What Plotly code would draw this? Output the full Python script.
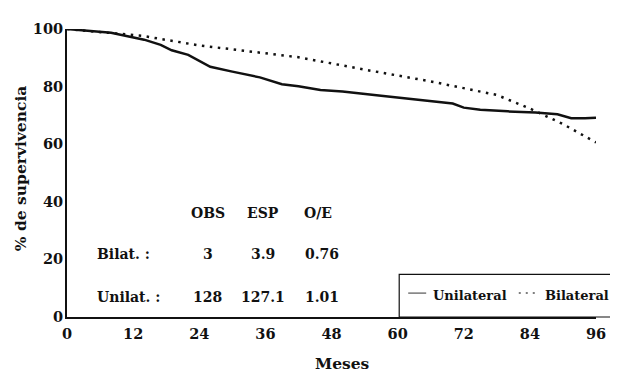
import plotly.graph_objects as go

# Data
meses_unilat = [0, 4, 8, 11, 14, 17, 19, 22, 24, 26, 30, 35, 39, 42, 46, 50, 57, 62, 66, 70, 72, 75, 80, 85, 89, 91.5, 94, 96]
surv_unilat = [100, 99.3, 98.7, 97.5, 96.3, 94.5, 92.6, 91, 89, 86.9, 85.2, 83.2, 80.8, 80.1, 78.8, 78.3, 76.8, 75.8, 75.1, 74.1, 72.7, 72, 71.4, 71, 70.4, 69, 69, 69.2]

meses_bilat = [0, 8, 13.7, 24, 33, 42, 54, 66, 78, 84, 87, 90, 96]
surv_bilat = [100, 98.7, 97.6, 94.3, 92.3, 90.2, 85.9, 81.8, 77.1, 72.4, 69.7, 67, 60.6]

x_ticks = [0, 12, 24, 36, 48, 60, 72, 84, 96]
y_ticks = [0, 20, 40, 60, 80, 100]

table_cols = ["OBS", "ESP", "O/E"]
table_rows = ["Bilat. :", "Unilat. :"]
table_vals = [["3", "3.9", "0.76"], ["128", "127.1", "1.01"]]

FONT = "DejaVu Serif"
BLACK = "#111111"

fig = go.Figure()
fig.add_trace(go.Scatter(x=meses_unilat, y=surv_unilat, mode="lines", name="Unilateral",
                         line=dict(color=BLACK, width=2.5), cliponaxis=False, showlegend=False))
fig.add_trace(go.Scatter(x=meses_bilat, y=surv_bilat, mode="lines", name="Bilateral",
                         line=dict(color=BLACK, width=2.5, dash="2.5px,5.5px"), cliponaxis=False, showlegend=False))

# Table annotations
col_x = [25.5, 35.5, 45.6]
row_y = [21.9, 7.1]
header_y = 36
tfont = dict(family=FONT, size=14, color=BLACK, weight="bold")
anns = []
for cx, c in zip(col_x, table_cols):
    anns.append(dict(x=cx, y=header_y, text=c, xref="x", yref="y", showarrow=False,
                     font=tfont, xanchor="center", yanchor="middle"))
for ry, r, vals in zip(row_y, table_rows, table_vals):
    anns.append(dict(x=5.0, y=ry, text=r, xref="x", yref="y", showarrow=False, xanchor="left",
                     yanchor="middle", font=tfont))
    for i, (cx, v) in enumerate(zip(col_x, vals)):
        if i == 2:
            anns.append(dict(x=42.9, y=ry, text=v, xref="x", yref="y", showarrow=False, xanchor="left",
                             yanchor="middle", font=tfont))
        else:
            anns.append(dict(x=cx, y=ry, text=v, xref="x", yref="y", showarrow=False, xanchor="center",
                             yanchor="middle", font=tfont))

# Axis titles
anns.append(dict(x=-0.088, y=0.515, xref="paper", yref="paper", text="% de supervivencia", textangle=-90,
                 xanchor="center", yanchor="middle",
                 showarrow=False, font=dict(family=FONT, size=15.5, color=BLACK, weight="bold")))
anns.append(dict(x=0.52, y=-0.162, xref="paper", yref="paper", text="Meses",
                 xanchor="center", yanchor="middle",
                 showarrow=False, font=dict(family=FONT, size=15.5, color=BLACK, weight="bold")))

# Legend (manual)
leg_y = 0.073
lfont = dict(family=FONT, size=13, color=BLACK, weight="bold")
anns.append(dict(x=0.688, y=leg_y, xref="paper", yref="paper", text="Unilateral", xanchor="left",
                 yanchor="middle", showarrow=False, font=lfont))
anns.append(dict(x=0.899, y=leg_y, xref="paper", yref="paper", text="Bilateral", xanchor="left",
                 yanchor="middle", showarrow=False, font=lfont))
shapes = [
    dict(type="rect", xref="paper", yref="paper", x0=0.628, x1=1.06, y0=0.0, y1=0.148,
         line=dict(color=BLACK, width=1.2)),
    dict(type="line", xref="paper", yref="paper", x0=0.645, x1=0.679, y0=0.083, y1=0.083,
         line=dict(color="#555555", width=1.2)),
    dict(type="line", xref="paper", yref="paper", x0=0.854, x1=0.890, y0=0.083, y1=0.083,
         line=dict(color="#555555", width=1.5, dash="2px,5px")),
]

# The page body adds an 8px offset; size the figure to fit the 618x372 window
fig.update_layout(
    width=610, height=364,
    margin=dict(l=59, r=16, t=12, b=55),
    paper_bgcolor="white", plot_bgcolor="white",
    font=dict(family=FONT, color=BLACK),
    annotations=anns, shapes=shapes,
    showlegend=False,
)
fig.update_xaxes(range=[0, 96], tickvals=x_ticks, ticktext=[str(v) for v in x_ticks],
                 showgrid=False, zeroline=False, showline=True, linecolor=BLACK, linewidth=2,
                 ticks="", tickfont=dict(family=FONT, size=14.5, color=BLACK, weight="bold"),
                 ticklabelstandoff=3)
fig.update_yaxes(range=[0, 100], tickvals=y_ticks, ticktext=[str(v) for v in y_ticks],
                 showgrid=False, zeroline=False, showline=True, linecolor=BLACK, linewidth=2,
                 ticks="", tickfont=dict(family=FONT, size=14.5, color=BLACK, weight="bold"),
                 ticklabelstandoff=-1)

fig.write_html("out.html")
